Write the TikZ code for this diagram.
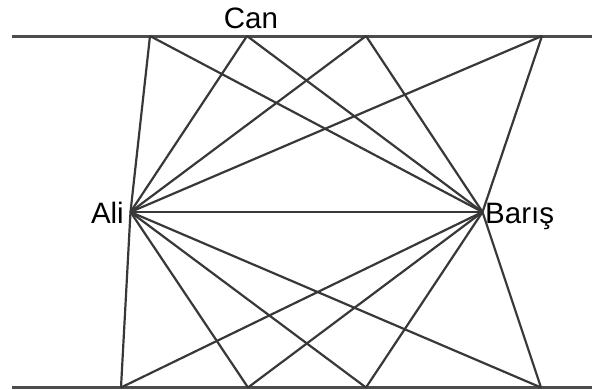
\documentclass[tikz,border=0pt]{standalone}
\usepackage{fontspec}
\setmainfont{Liberation Sans}
\usetikzlibrary{positioning,calc}

\begin{document}
\begin{tikzpicture}[
  x=1pt, y=-1pt,
  rail/.style={line width=3pt, draw=black!70},
  link/.style={line width=2.2pt, draw=black!78},
  person/.style={inner sep=0pt, font=\fontsize{29.5}{32}\selectfont}
]
\useasboundingbox (0,0) rectangle (592,389);

% the two rails
\coordinate (topl) at (12,36);
\coordinate (topr) at (592,36);
\coordinate (botl) at (12,387.5);
\coordinate (botr) at (592,387.5);
\draw[rail] (topl) -- (topr);
\draw[rail] (botl) -- (botr);

% points on the rails
\coordinate (t1) at (150,36);
\coordinate (t2) at (247,36);
\coordinate (t3) at (366,36);
\coordinate (t4) at (542,36);
\coordinate (b1) at (121,387.5);
\coordinate (b2) at (248,387.5);
\coordinate (b3) at (366,387.5);
\coordinate (b4) at (541,387.5);

% the two people
\coordinate (ali) at (130.5,212);
\coordinate (baris) at (482.5,212);
\node[person, anchor=base east] (alilbl) at (124,223) {Ali};
\node[person, anchor=base west] (barislbl) at (485,223) {Barış};
\node[person, anchor=base] (canlbl) at (251,28) {Can};

\foreach \p in {t1,t2,t3,t4,b1,b2,b3,b4} {
  \draw[link] (ali) -- (\p);
  \draw[link] (baris) -- (\p);
}
\draw[link] (ali) -- (baris);
\end{tikzpicture}
\end{document}
